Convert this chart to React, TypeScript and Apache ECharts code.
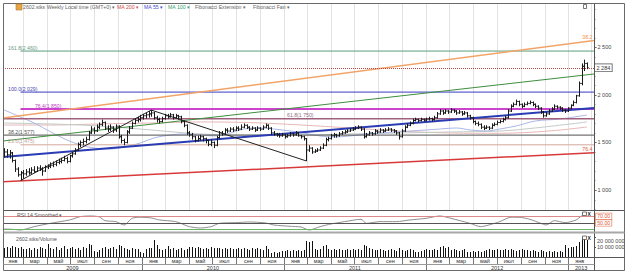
import React, { useEffect, useRef } from "react";
import * as echarts from "echarts";

// ================= DATA =================
const monthNames = ["янв", "мар", "май", "июл", "сен", "ноя"];
const years = [2009, 2010, 2011, 2012, 2013];
const priceTicks = [1000, 1500, 2000, 2500];
const volumeTicks = [10, 20]; // millions

// weekly bars [open, high, low, close], first bar = week of 2009-01-12
const ohlc2009 = [
  [1380,1440,1340,1400],[1400,1430,1340,1370],[1370,1420,1330,1390],[1390,1400,1290,1310],[1310,1320,1190,1220],
  [1220,1240,1140,1160],[1160,1200,1100,1180],[1180,1210,1120,1170],[1170,1220,1150,1190],[1190,1230,1160,1180],
  [1180,1240,1170,1210],[1210,1250,1180,1195],[1195,1250,1190,1230],[1230,1260,1200,1220],[1220,1240,1150,1200],
  [1200,1260,1190,1240],[1240,1270,1220,1250],[1250,1290,1230,1260],[1260,1300,1240,1270],[1270,1310,1250,1290],
  [1290,1330,1270,1300],[1300,1340,1280,1310],[1310,1360,1300,1330],[1330,1350,1280,1300],[1300,1370,1290,1360],
  [1360,1400,1340,1380],[1380,1440,1370,1420],[1420,1500,1410,1480],[1480,1520,1450,1500],[1500,1540,1470,1510],
  [1510,1560,1490,1530],[1530,1620,1520,1600],[1600,1670,1590,1640],[1640,1660,1590,1620],[1620,1690,1610,1660],
  [1660,1710,1640,1690],[1690,1740,1670,1710],[1710,1720,1630,1650],[1650,1680,1610,1640],[1640,1690,1620,1660],
  [1660,1670,1600,1630],[1630,1690,1610,1670],[1670,1680,1540,1560],[1560,1580,1490,1520],[1520,1540,1470,1500],
  [1500,1630,1490,1610],[1610,1670,1590,1650],[1650,1720,1640,1700],[1700,1750,1690,1730],[1730,1770,1710,1740],
  [1740,1790,1720,1760],
];
const ohlc2010 = [
  [1760,1800,1740,1780],[1780,1810,1750,1790],[1790,1830,1760,1800],[1800,1840,1770,1810],[1810,1820,1740,1760],
  [1760,1780,1710,1740],[1740,1760,1700,1720],[1720,1770,1710,1750],[1750,1800,1740,1780],[1780,1800,1750,1770],
  [1770,1810,1760,1790],[1790,1800,1740,1760],[1760,1800,1750,1780],[1780,1790,1740,1770],[1770,1780,1700,1720],
  [1720,1730,1660,1680],[1680,1690,1580,1600],[1600,1620,1560,1580],[1580,1600,1530,1560],[1560,1570,1500,1520],
  [1520,1570,1510,1540],[1540,1580,1520,1560],[1560,1570,1510,1540],[1540,1550,1490,1520],[1520,1530,1460,1480],
  [1480,1530,1460,1500],[1500,1510,1440,1470],[1470,1570,1460,1550],[1550,1620,1540,1600],[1600,1620,1570,1590],
  [1590,1650,1580,1630],[1630,1650,1600,1620],[1620,1660,1610,1640],[1640,1660,1610,1630],[1630,1670,1620,1650],
  [1650,1670,1620,1640],[1640,1690,1630,1660],[1660,1700,1650,1680],[1680,1690,1640,1660],[1660,1670,1620,1640],
  [1640,1670,1630,1650],[1650,1660,1610,1630],[1630,1670,1620,1650],[1650,1660,1620,1640],[1640,1680,1630,1660],
  [1660,1700,1650,1680],[1680,1690,1630,1650],[1650,1660,1580,1600],[1600,1620,1570,1590],[1590,1600,1560,1580],
  [1580,1600,1550,1570],[1570,1600,1560,1580],
];
const ohlc2011 = [
  [1580,1590,1540,1560],[1560,1590,1550,1570],[1570,1610,1560,1590],[1590,1600,1560,1580],[1580,1620,1570,1600],
  [1600,1610,1560,1570],[1570,1580,1540,1560],[1560,1570,1520,1540],[1540,1545,1305,1420],[1420,1470,1400,1440],
  [1440,1450,1380,1400],[1400,1430,1390,1410],[1410,1440,1400,1420],[1420,1460,1410,1440],[1440,1490,1430,1470],
  [1470,1550,1460,1530],[1530,1560,1510,1540],[1540,1590,1530,1570],[1570,1600,1550,1580],[1580,1590,1550,1570],
  [1570,1610,1560,1590],[1590,1620,1580,1600],[1600,1630,1590,1610],[1610,1640,1600,1620],[1620,1650,1610,1630],
  [1630,1660,1620,1640],[1640,1670,1630,1650],[1650,1680,1640,1660],[1660,1670,1620,1640],[1640,1650,1540,1560],
  [1560,1600,1550,1580],[1580,1620,1570,1600],[1600,1610,1570,1590],[1590,1640,1580,1620],[1620,1630,1590,1610],
  [1610,1650,1600,1630],[1630,1640,1600,1620],[1620,1650,1610,1630],[1630,1660,1620,1640],[1640,1650,1610,1630],
  [1630,1640,1600,1620],[1620,1630,1580,1600],[1600,1610,1530,1560],[1560,1640,1550,1620],[1620,1680,1610,1660],
  [1660,1700,1650,1680],[1680,1720,1670,1700],[1700,1750,1690,1730],[1730,1760,1720,1740],[1740,1750,1710,1730],
  [1730,1760,1720,1740],[1740,1750,1720,1735],
];
const ohlc2012 = [
  [1735,1760,1720,1745],[1745,1770,1730,1750],[1750,1760,1720,1740],[1740,1780,1730,1760],[1760,1820,1750,1800],
  [1800,1850,1790,1830],[1830,1840,1790,1810],[1810,1850,1800,1830],[1830,1840,1800,1820],[1820,1860,1810,1840],
  [1840,1850,1810,1830],[1830,1840,1790,1810],[1810,1840,1800,1820],[1820,1830,1780,1800],[1800,1830,1790,1810],
  [1810,1820,1760,1780],[1780,1790,1740,1760],[1760,1770,1700,1720],[1720,1730,1680,1700],[1700,1720,1670,1690],
  [1690,1700,1640,1660],[1660,1680,1630,1650],[1650,1680,1640,1660],[1660,1670,1630,1650],[1650,1700,1640,1680],
  [1680,1710,1670,1690],[1690,1730,1680,1710],[1710,1740,1700,1720],[1720,1760,1710,1740],[1740,1780,1730,1760],
  [1760,1850,1750,1830],[1830,1900,1820,1880],[1880,1920,1870,1900],[1900,1950,1890,1930],[1930,1940,1880,1900],
  [1900,1910,1860,1880],[1880,1920,1870,1900],[1900,1930,1890,1910],[1910,1940,1900,1920],[1920,1930,1880,1900],
  [1900,1910,1860,1880],[1880,1890,1840,1860],[1860,1870,1800,1820],[1820,1830,1760,1780],[1780,1820,1770,1800],
  [1800,1850,1790,1830],[1830,1870,1820,1850],[1850,1900,1840,1880],[1880,1890,1850,1870],[1870,1880,1840,1860],
  [1860,1870,1820,1840],[1840,1850,1810,1830],[1830,1870,1820,1860],
];
const ohlc2013 = [
  [1860,1900,1850,1890],[1890,1940,1880,1920],[1920,2000,1910,1990],[1990,2140,1980,2120],[2120,2330,2100,2300],
  [2300,2370,2250,2330],[2330,2340,2270,2284],
];

// weekly volume, millions of shares
const vol2009 = [9,10,9,11,10,9,10,8, 8,9,7,9,8,10,9,8, 13, 9,8,10,7,9,11,8,9,10,8,9,7,10,9, 13,12, 6,5,7, 9,10,8,9,10,8,12, 11, 9,8,7,9,8,8, 5];
const vol2010 = [4, 8,9,9, 17,12, 8,7,8,11, 8,9,7,8,9,7,8, 10,10,9,10, 9,8,9,8,10,9,9, 9,8,9,8,9,8, 8,9,8,9,8,7,9,8,9,8,7,11, 8,4,5,4,5, 6];
const vol2011 = [6,7,6,7,6,7,6,7, 16, 15,16, 8,7,8, 11,12, 8,7,8,7,8,7,7,8,7,8,7,8,7, 12,11,9, 8,7,7,8,7,6,7,8,7,6,9, 7,6,7,8,7, 5,5,6, 7];
const vol2012 = [8,7,7,8,7, 10,11,9,10, 7,8,7,6,7,8, 5,5,6,5,6,5,6, 7,8,7,7,8,7,7,8, 7,8,7,6,7,8,7,7, 6,7,6,5,7,6,5,6, 5,6,5,6,5, 12,9];
const vol2013 = [10,10,11,15,20,18,17];

// RSI 14 smoothed, sampled at week indices
const rsiWeeks = [0,3,6,11,17,24,28,32,35,37,41,44,47,50,54,57,63,68,72,76,79,85,90,96,99,105,109,112,116,120,125,131,133,138,144,149,155,160,164,171,175,178,182,186,189,193,197,199,202,206,210,212,214];
const rsiValues = [32,31,29,39,49,59,69,71,68,57,54,44,64,67,65,59,54,39,35,39,49,51,53,50,44,40,38,29,39,47,54,61,49,54,54,59,64,71,64,49,39,44,54,67,67,61,49,44,57,51,59,71,77];
const rsiLevels = [70, 50, 30];

// moving averages, sampled at week indices
const ma55Weeks = [0,6,11,17,23,28,33,39,44,50,55,61,66,72,77,83,88,94,99,105,110,116,121,127,133,138,144,149,155,160,166,171,177,182,188,195,204,214];
const ma55Values = [1841,1767,1704,1612,1526,1473,1441,1431,1452,1494,1547,1578,1589,1578,1568,1599,1641,1652,1641,1620,1599,1568,1557,1568,1589,1599,1610,1620,1631,1641,1652,1631,1620,1641,1673,1725,1746,1788];
const ma100Weeks = [0,17,35,54,72,90,109,127,145,164,182,195,214];
const ma100Values = [1704,1694,1673,1631,1589,1578,1578,1589,1599,1610,1620,1652,1715];
const ma200Weeks = [0,17,35,54,72,90,109,127,145,164,182,200,214];
const ma200Values = [1683,1683,1694,1704,1715,1709,1683,1652,1620,1599,1596,1620,1662];

// Fibonacci extension (A = week 6 low, B = week 54 high, C = week 111 low)
const fibPivotWeeks = [6, 54, 111];
const fibRatios = ["161.8", "100.0", "76.4", "61.8", "38.2", "23.6"];
const fibValues = [2460, 2029, 1850, 1750, 1577, 1475];

// Fibonacci fan lines: value at the left and right edge of the chart
const fanLabels = ["38.2", "", "", "76.4"];
const fanStartValues = [1757, 1515, 1347, 1087];
const fanEndValues = [2570, 2219, 1862, 1392];

const lastPrice = 2284;

// ================= helpers / layout =================
const FONT = '"Liberation Sans", Arial, sans-serif';
const DAY0 = Date.UTC(2009, 0, 1);
const dayOf = (y: number, m: number, d: number) => (Date.UTC(y, m, d) - DAY0) / 86400000;
const X_MIN = 8;
const X_MAX = 1527;
const FIRST_DAY = dayOf(2009, 0, 12);
const weekDay = (i: number) => FIRST_DAY + 7 * i;
const fmt = (v: number) => String(Math.round(v)).replace(/\B(?=(\d{3})+(?!\d))/g, " ");

const ohlc = [...ohlc2009, ...ohlc2010, ...ohlc2011, ...ohlc2012, ...ohlc2013];
const volumes = [...vol2009, ...vol2010, ...vol2011, ...vol2012, ...vol2013];

function buildOption() {
  // axis cells (2-month cells and year cells)
  const cells: { start: number; end: number; row: number; label: string }[] = [];
  years.forEach((y) => {
    monthNames.forEach((name, k) => {
      const start = dayOf(y, 2 * k, 1);
      if (start < X_MAX - 10) cells.push({ start, end: dayOf(y, 2 * k + 2, 1), row: 0, label: name });
    });
  });
  years.forEach((y) => cells.push({ start: dayOf(y, 0, 1), end: dayOf(y + 1, 0, 1), row: 1, label: String(y) }));
  const gridDays: number[] = [];
  years.forEach((y) => [0, 2, 4, 6, 8, 10].forEach((m) => {
    const d = dayOf(y, m, 1);
    if (d > X_MIN && d < X_MAX) gridDays.push(d);
  }));
  const minorTicks: number[] = [];
  for (let v = 800; v <= 2900; v += 100) minorTicks.push(v);

  const dayA = weekDay(fibPivotWeeks[0]);
  const zigzag = [
    [weekDay(fibPivotWeeks[0]), ohlc[fibPivotWeeks[0]][2]],
    [weekDay(fibPivotWeeks[1]), ohlc[fibPivotWeeks[1]][1]],
    [weekDay(fibPivotWeeks[2]), ohlc[fibPivotWeeks[2]][2]],
  ];

  const fibColors = ["#5a9e7c", "#3a3ac4", "#cc44cc", "#a0607e", "#505050", "#d4a89c"];
  const fibTextColors = ["#6a9a84", "#4848b0", "#c040c0", "#907080", "#505050", "#c0a098"];
  const fibWidths = [1, 1, 2, 1.5, 1, 1];
  const fibFromA = [true, true, true, false, false, true];
  const fibLabelDays = [21, 21, 90, 738, 21, 21];
  const fanColors = ["#f2a468", "#3e8e3e", "#2a3cb4", "#d83a3a"];
  const fanTextColors = ["#f0904a", "", "", "#e0603a"];
  const fanWidths = [1.5, 1, 2, 1.5];

  const labelItems: { day: number; value: number; text: string; color: string; align: string }[] = [];
  fibRatios.forEach((r, k) =>
    labelItems.push({ day: fibLabelDays[k], value: fibValues[k], text: `${r}(${fmt(fibValues[k])})`, color: fibTextColors[k], align: "left" })
  );
  fanLabels.forEach((t, k) => {
    if (t) labelItems.push({ day: X_MAX - 4, value: fanEndValues[k], text: t, color: fanTextColors[k], align: "right" });
  });

  const series: any[] = [];

  // vertical grid lines
  series.push({
    type: "custom", xAxisIndex: 0, yAxisIndex: 0, z: 1, silent: true,
    data: gridDays.map((d) => [d]),
    renderItem: (params: any, api: any) => {
      const cs = params.coordSys;
      const x = Math.round(api.coord([api.value(0), 1000])[0]) + 0.5;
      return { type: "line", shape: { x1: x, y1: cs.y, x2: x, y2: cs.y + cs.height }, style: { stroke: "#e3e3e3", lineWidth: 1 } };
    },
  });
  // minor ticks on the price axis
  series.push({
    type: "custom", xAxisIndex: 0, yAxisIndex: 0, z: 1, silent: true,
    data: minorTicks.map((v) => [v]),
    renderItem: (params: any, api: any) => {
      const p = api.coord([X_MAX, api.value(0)]);
      const y = Math.round(p[1]) + 0.5;
      return { type: "line", shape: { x1: p[0], y1: y, x2: p[0] + 1.5, y2: y }, style: { stroke: "#888", lineWidth: 1 } };
    },
  });

  // moving averages
  const maDefs = [
    { name: "MA 200", w: ma200Weeks, v: ma200Values, c: "#e8b6b6" },
    { name: "MA 100", w: ma100Weeks, v: ma100Values, c: "#c2cbc4" },
    { name: "MA 55", w: ma55Weeks, v: ma55Values, c: "#aab6e6" },
  ];
  maDefs.forEach((m, idx) => {
    const s: any = {
      type: "line", name: m.name, xAxisIndex: 0, yAxisIndex: 0, z: 2, silent: true,
      smooth: 0.35, symbol: "none",
      lineStyle: { color: m.c, width: 1 },
      data: m.w.map((wk, k) => [weekDay(wk), m.v[k]]),
    };
    if (idx === 0) {
      s.markLine = {
        silent: true, symbol: ["none", "none"],
        data: [{
          yAxis: lastPrice,
          lineStyle: { color: "#b84a4a", width: 1, type: "dotted" },
          label: {
            show: true, position: "end", distance: 1, formatter: fmt(lastPrice),
            fontSize: 5.5, fontFamily: FONT, color: "#333", backgroundColor: "#fff",
            borderColor: "#555", borderWidth: 0.8, padding: [0.5, 1.5],
          },
        }],
      };
    }
    series.push(s);
  });

  // Fibonacci extension levels
  fibValues.forEach((v, k) => {
    series.push({
      type: "line", xAxisIndex: 0, yAxisIndex: 0, z: 3, silent: true, symbol: "none",
      lineStyle: { color: fibColors[k], width: fibWidths[k] },
      data: [[fibFromA[k] ? dayA : X_MIN, v], [X_MAX, v]],
    });
  });
  // Fibonacci fan lines
  fanStartValues.forEach((v, k) => {
    series.push({
      type: "line", xAxisIndex: 0, yAxisIndex: 0, z: 3, silent: true, symbol: "none",
      lineStyle: { color: fanColors[k], width: fanWidths[k] },
      data: [[X_MIN, v], [X_MAX, fanEndValues[k]]],
    });
  });
  // extension pivots
  series.push({
    type: "line", xAxisIndex: 0, yAxisIndex: 0, z: 4, silent: true, symbol: "none",
    lineStyle: { color: "#222", width: 1 }, data: zigzag,
  });

  // OHLC bars
  series.push({
    type: "custom", xAxisIndex: 0, yAxisIndex: 0, z: 5, silent: true,
    encode: { x: 0, y: [1, 2, 3, 4] },
    data: ohlc.map((r, i) => [weekDay(i), r[0], r[1], r[2], r[3]]),
    renderItem: (params: any, api: any) => {
      const d = api.value(0);
      const po = api.coord([d, api.value(1)]);
      const ph = api.coord([d, api.value(2)]);
      const pl = api.coord([d, api.value(3)]);
      const pc = api.coord([d, api.value(4)]);
      const x = Math.round(po[0]) + 0.5;
      const st = { stroke: "#1a1a1a", lineWidth: 1 };
      return {
        type: "group",
        children: [
          { type: "line", shape: { x1: x, y1: ph[1], x2: x, y2: pl[1] }, style: st },
          { type: "line", shape: { x1: x - 1.3, y1: po[1], x2: x, y2: po[1] }, style: st },
          { type: "line", shape: { x1: x, y1: pc[1], x2: x + 1.3, y2: pc[1] }, style: st },
        ],
      };
    },
  });

  // level labels
  series.push({
    type: "custom", xAxisIndex: 0, yAxisIndex: 0, z: 6, silent: true,
    data: labelItems.map((it) => [it.day, it.value]),
    renderItem: (params: any, api: any) => {
      const it = labelItems[params.dataIndex];
      const p = api.coord([it.day, it.value]);
      return {
        type: "text",
        style: { text: it.text, x: p[0], y: p[1] - 1, align: it.align, verticalAlign: "bottom", fill: it.color, fontSize: 5.2, fontFamily: FONT },
      };
    },
  });

  // RSI
  const rsiLineColors = ["#e08888", "#555555", "#66b866"];
  series.push({
    type: "line", xAxisIndex: 1, yAxisIndex: 1, z: 3, silent: true, symbol: "none", smooth: 0.25,
    lineStyle: { color: "#8e8e8e", width: 1 },
    data: rsiWeeks.map((wk, k) => [weekDay(wk), rsiValues[k]]),
    markLine: {
      silent: true, symbol: ["none", "none"],
      data: rsiLevels.map((lv, k) => ({
        yAxis: lv,
        lineStyle: { color: rsiLineColors[k], width: 1, type: "solid" },
        label: k < 2
          ? {
              show: true, position: "end", distance: 2, formatter: lv.toFixed(2),
              fontSize: 5.2, fontFamily: FONT, color: "#e0583a", backgroundColor: "#fff",
              borderColor: "#e8906c", borderWidth: 0.8, padding: [0.3, 1.2],
            }
          : { show: false },
      })),
    },
  });

  // Volume
  series.push({
    type: "custom", xAxisIndex: 2, yAxisIndex: 2, z: 3, silent: true,
    data: volumes.map((v, i) => [weekDay(i), v]),
    renderItem: (params: any, api: any) => {
      const p = api.coord([api.value(0), api.value(1)]);
      const b = api.coord([api.value(0), 0]);
      return { type: "rect", shape: { x: Math.round(p[0]), y: p[1], width: 1, height: b[1] - p[1] }, style: { fill: "#111" } };
    },
  });

  // time axis rows (months / years)
  const ROW_H = 7;
  series.push({
    type: "custom", xAxisIndex: 3, yAxisIndex: 3, z: 3, silent: true,
    data: cells.map((c) => [c.start, c.end, c.row]),
    renderItem: (params: any, api: any) => {
      const c = cells[params.dataIndex];
      const cs = params.coordSys;
      const top = cs.y + c.row * ROW_H;
      const s = Math.max(c.start, X_MIN);
      const e = Math.min(c.end, X_MAX);
      const x0 = api.coord([s, 0])[0];
      const x1 = api.coord([e, 0])[0];
      const children: any[] = [];
      if (c.start > X_MIN) {
        const xl = Math.round(x0) + 0.5;
        children.push({ type: "line", shape: { x1: xl, y1: top, x2: xl, y2: top + ROW_H }, style: { stroke: "#777", lineWidth: 1 } });
      }
      children.push({
        type: "text",
        style: { text: c.label, x: (x0 + x1) / 2, y: top + ROW_H / 2 + 0.3, align: "center", verticalAlign: "middle", fontSize: 5.5, fill: "#333", fontFamily: FONT },
      });
      return { type: "group", children };
    },
  });

  const gLine = (x1: number, y1: number, x2: number, y2: number, stroke: string, w = 1) => ({
    type: "line", silent: true, z: 10, shape: { x1, y1, x2, y2 }, style: { stroke, lineWidth: w },
  });
  const gText = (x: number, y: number, t: string, fill: string, size = 5.2, weight = "normal") => ({
    type: "text", silent: true, z: 10,
    style: { text: t, x, y, fill, fontSize: size, fontFamily: FONT, fontWeight: weight, align: "left", verticalAlign: "middle" },
  });
  const gBox = (x: number, y: number, w: number, h: number) => ({
    type: "rect", silent: true, z: 10, shape: { x, y, width: w, height: h }, style: { fill: "#fff", stroke: "#555", lineWidth: 0.8 },
  });

  const graphic: any[] = [
    { type: "rect", silent: true, z: 10, shape: { x: 3.5, y: 3.5, width: 621, height: 267 }, style: { fill: "none", stroke: "#6a6a6a", lineWidth: 1 } },
    gLine(594.5, 3.5, 594.5, 270.5, "#555"),
    gLine(3.5, 210.5, 624.5, 210.5, "#555"),
    { type: "rect", silent: true, z: 10, shape: { x: 3.5, y: 231.5, width: 621, height: 2 }, style: { fill: "#a8a8a8" } },
    gLine(3.5, 257.5, 624.5, 257.5, "#555"),
    gLine(3.5, 264.5, 594.5, 264.5, "#999"),
    { type: "rect", silent: true, z: 10, shape: { x: 16, y: 4, width: 6, height: 6 }, style: { fill: "#e6a648", stroke: "#b07a2a", lineWidth: 0.6 } },
    gText(23, 7.2, "2602.stks Weekly Local time (GMT+0) ▾", "#666"),
    gText(117, 7.2, "MA 200 ▾", "#d04a4a"),
    gText(144, 7.2, "MA 55 ▾", "#4a4ad0"),
    gText(168, 7.2, "MA 100 ▾", "#3aa070"),
    gText(195, 7.2, "Fibonacci Extension ▾", "#666"),
    gText(253, 7.2, "Fibonacci Fan ▾", "#666"),
    gText(17, 214.5, "RSI 14 Smoothed ▾", "#555"),
    gText(16, 238.5, "2602.stks/Volume", "#555"),
    gBox(583.5, 4.5, 3, 4),
    gBox(582.5, 212, 4, 3.5),
    gText(587.5, 214, "X", "#222", 5, "bold"),
    gBox(582.5, 236, 4, 3.5),
    gText(587.5, 238, "X", "#222", 5, "bold"),
  ];

  const xAxis = [0, 1, 2, 3].map((g) => ({ type: "value", gridIndex: g, min: X_MIN, max: X_MAX, show: false }));
  const yAxis = [
    {
      type: "value", gridIndex: 0, position: "right", min: 790, max: 2965,
      axisLine: { show: false }, splitLine: { show: false },
      axisTick: { show: true, customValues: priceTicks, length: 2.5, lineStyle: { color: "#555" } },
      axisLabel: { show: true, customValues: priceTicks, formatter: (v: number) => fmt(v), fontSize: 5.5, color: "#444", fontFamily: FONT, margin: 3.5 },
    },
    { type: "value", gridIndex: 1, min: 26, max: 88.8, show: false },
    {
      type: "value", gridIndex: 2, position: "right", min: 0, max: 23.5,
      axisLine: { show: false }, splitLine: { show: false },
      axisTick: { show: true, customValues: volumeTicks, length: 2, lineStyle: { color: "#555" } },
      axisLabel: {
        show: true, customValues: volumeTicks, fontSize: 5.5, color: "#444", fontFamily: FONT, margin: 3,
        formatter: (v: number) => (v === 20 ? "{d|" + fmt(v * 1e6) + "}" : fmt(v * 1e6)),
        rich: { d: { fontSize: 5.5, color: "#444", fontFamily: FONT, padding: [7, 0, 0, 0] } },
      },
    },
    { type: "value", gridIndex: 3, min: 0, max: 2, show: false },
  ];

  return {
    animation: false,
    backgroundColor: "#ffffff",
    grid: [
      { left: 3, top: 3, width: 591, height: 207, outerBoundsMode: "none" },
      { left: 3, top: 210, width: 591, height: 21, outerBoundsMode: "none" },
      { left: 3, top: 233.5, width: 591, height: 23.5, outerBoundsMode: "none" },
      { left: 3, top: 257, width: 591, height: 14, outerBoundsMode: "none" },
    ],
    xAxis,
    yAxis,
    series,
    graphic,
  };
}

export default function App() {
  const ref = useRef<HTMLDivElement>(null);
  useEffect(() => {
    if (!ref.current) return;
    const chart = echarts.init(ref.current, null, { renderer: "svg" });
    chart.setOption(buildOption() as any);
    return () => chart.dispose();
  }, []);
  return (
    <div
      ref={ref}
      style={{ position: "fixed", left: 0, top: 0, width: 628, height: 274, background: "#fff" }}
    />
  );
}
